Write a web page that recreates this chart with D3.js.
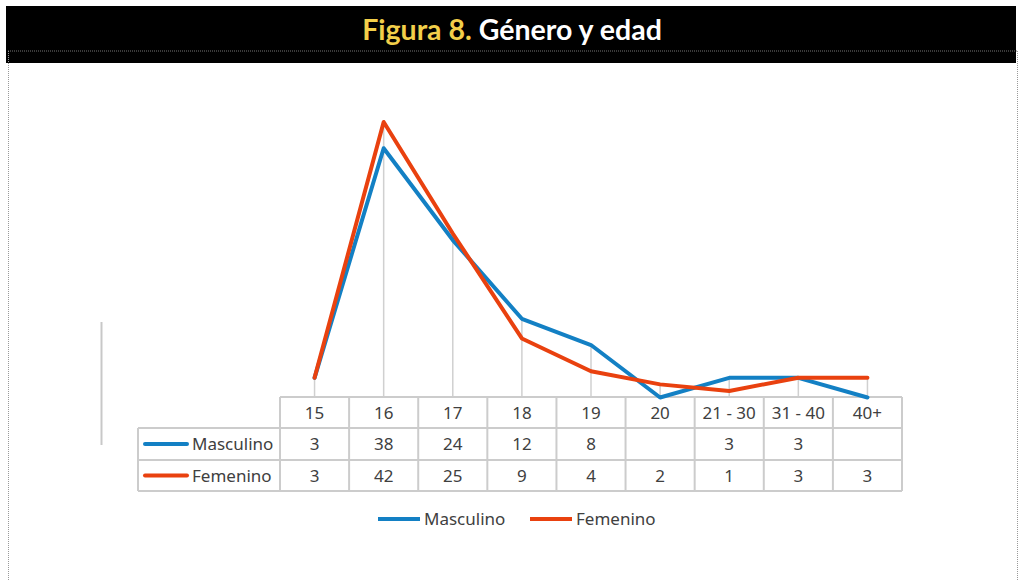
<!DOCTYPE html>
<html><head><meta charset="utf-8">
<script src="https://cdn.jsdelivr.net/npm/d3@7"></script>
<style>html,body{margin:0;padding:0;background:#fff;}svg{display:block;}</style>
</head><body>
<svg id="c" width="1019" height="581"></svg>
<script>
const categories = ["15","16","17","18","19","20","21 - 30","31 - 40","40+"];
const masculino = [3,38,24,12,8,null,3,3,null];
const femenino  = [3,42,25,9,4,2,1,3,3];
const seriesNames = ["Masculino","Femenino"];
const colors = ["#1380c4","#e9410f"];

const svg = d3.select("#c");
// title bar
svg.append("rect").attr("x",6).attr("y",6).attr("width",1010).attr("height",57).attr("fill","#000");
svg.append("line").attr("x1",8).attr("x2",1017).attr("y1",51).attr("y2",51)
  .attr("stroke","#777").attr("stroke-width",1).attr("stroke-dasharray","1,1");
// dotted box
svg.append("path").attr("d","M8.5,51 V581 M1017.5,51 V581").attr("fill","none")
  .attr("stroke","#999").attr("stroke-width",1).attr("stroke-dasharray","1,1");
const t = svg.append("text").attr("x",512).attr("y",40).attr("text-anchor","middle")
  .attr("font-family","Lato, 'Open Sans', sans-serif").attr("font-weight","bold").attr("font-size",28.5);
t.append("tspan").attr("fill","#f2cf4a").text("Figura 8.");
t.append("tspan").attr("fill","#fff").text(" Género y edad");

// left axis remnant
svg.append("line").attr("x1",101.5).attr("x2",101.5).attr("y1",322).attr("y2",445).attr("stroke","#c8c8c8").attr("stroke-width",2);

const tableLeft = 280, tableRight = 902;
const x = d3.scaleBand().domain(categories).range([tableLeft, tableRight]);
const y = d3.scaleLinear().domain([0,42]).range([397.5,122]);
const rowY = [397, 428, 460, 491];
const xc = c => x(c) + x.bandwidth()/2;

// drop lines
const g = svg.append("g");
categories.forEach((c,i)=>{
  const m = Math.max(masculino[i]||0, femenino[i]||0);
  g.append("line").attr("x1",xc(c)).attr("x2",xc(c)).attr("y1",y(m)).attr("y2",rowY[0])
    .attr("stroke","#d0d0d0").attr("stroke-width",1.5);
});

// table
const tg = svg.append("g").attr("stroke","#cccccc").attr("stroke-width",2).attr("fill","none");
tg.append("line").attr("x1",tableLeft).attr("x2",tableRight).attr("y1",rowY[0]).attr("y2",rowY[0]);
[1,2,3].forEach(r=>tg.append("line").attr("x1",138).attr("x2",tableRight).attr("y1",rowY[r]).attr("y2",rowY[r]));
tg.append("line").attr("x1",138).attr("x2",138).attr("y1",rowY[1]).attr("y2",rowY[3]);
categories.forEach(c=>tg.append("line").attr("x1",x(c)).attr("x2",x(c)).attr("y1",rowY[0]).attr("y2",rowY[3]));
tg.append("line").attr("x1",tableRight).attr("x2",tableRight).attr("y1",rowY[0]).attr("y2",rowY[3]);

const font = "'Noto Sans', 'Open Sans', sans-serif";
const fs = 17;
const txt = svg.append("g").attr("font-family",font).attr("font-size",fs).attr("fill","#404040").attr("text-anchor","middle");
categories.forEach((c,i)=>{
  txt.append("text").attr("x",xc(c)).attr("y",(rowY[0]+rowY[1])/2+6).text(c);
  if (masculino[i]!=null) txt.append("text").attr("x",xc(c)).attr("y",(rowY[1]+rowY[2])/2+6).text(masculino[i]);
  if (femenino[i]!=null) txt.append("text").attr("x",xc(c)).attr("y",(rowY[2]+rowY[3])/2+6).text(femenino[i]);
});
seriesNames.forEach((s,k)=>{
  const cy = (rowY[k+1]+rowY[k+2])/2;
  svg.append("line").attr("x1",145).attr("x2",187).attr("y1",cy).attr("y2",cy).attr("stroke",colors[k]).attr("stroke-width",4).attr("stroke-linecap","round");
  svg.append("text").attr("x",192).attr("y",cy+6).attr("font-family",font).attr("font-size",fs).attr("fill","#404040").text(s);
});

// lines
const line = d3.line().x((d,i)=>xc(categories[i])).y(d=>y(d==null?0:d));
[masculino, femenino].forEach((s,k)=>{
  svg.append("path").datum(s).attr("d",line).attr("fill","none").attr("stroke",colors[k])
    .attr("stroke-width",4).attr("stroke-linejoin","round").attr("stroke-linecap","round");
});

// legend
const lg = [{x:378},{x:530}];
seriesNames.forEach((s,k)=>{
  svg.append("line").attr("x1",lg[k].x).attr("x2",lg[k].x+42).attr("y1",519).attr("y2",519).attr("stroke",colors[k]).attr("stroke-width",4);
  svg.append("text").attr("x",lg[k].x+46).attr("y",525).attr("font-family",font).attr("font-size",fs).attr("fill","#404040").text(s);
});
</script>
</body></html>
